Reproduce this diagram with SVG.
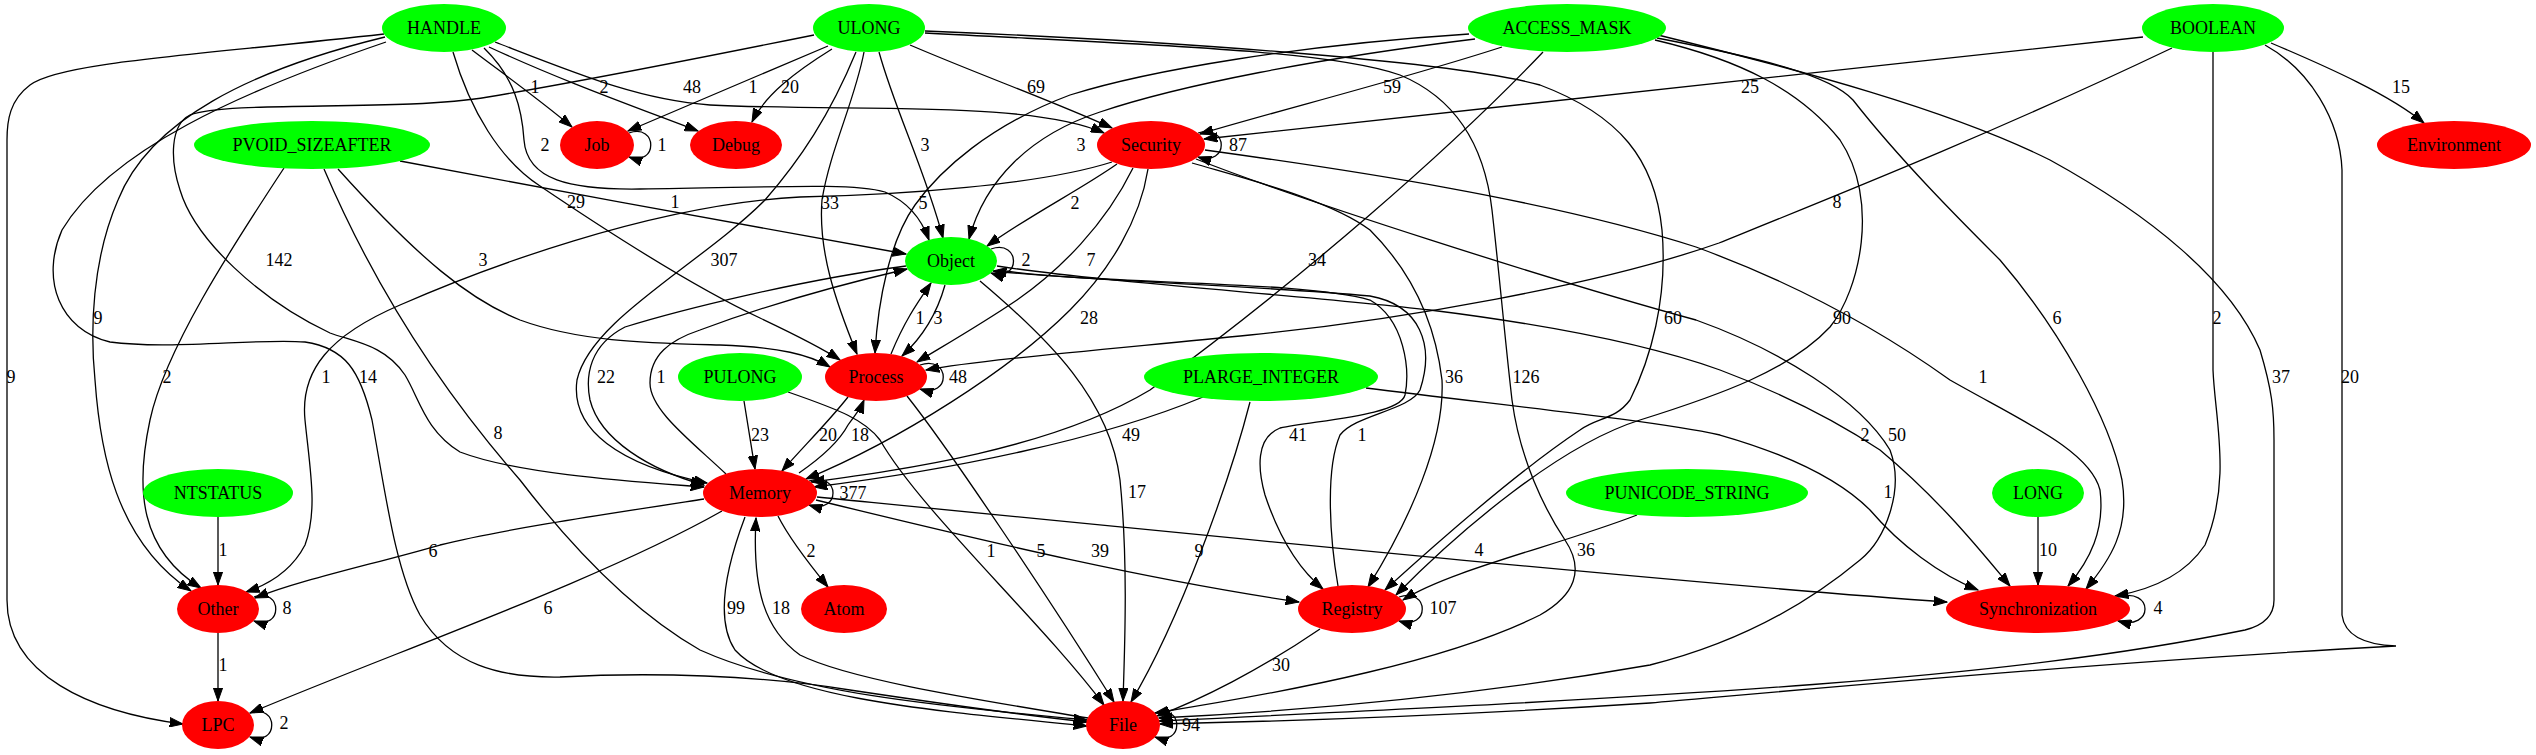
<svg xmlns="http://www.w3.org/2000/svg" width="2536" height="755" viewBox="0 0 2536 755">
<style>
text{font-family:"Liberation Serif","Times New Roman",serif;font-size:18px;text-anchor:middle;fill:#000}
.g{fill:#00ff00}
.r{fill:#ff0000}
.e path{fill:none;stroke:#000;stroke-width:1.3;marker-end:url(#a)}
.e path.nm{marker-end:none}
</style>
<defs>
<marker id="a" markerWidth="14" markerHeight="10" refX="13.3" refY="5" orient="auto" markerUnits="userSpaceOnUse">
<path d="M0,0.3 L13.3,5 L0,9.7 z" fill="#000" stroke="#000" stroke-width="1"/>
</marker>
</defs>
<rect width="2536" height="755" fill="#fff"/>
<g id="edges" class="e">
<g id="e-handle-lpc"><path d="M384,34 C200,55 60,62 30,85 C10,100 7,120 7,140 L7,600 C7,675 90,712 183,724"/><text x="11" y="383">9</text></g>
<g id="e-handle-other"><path d="M385,37 C250,70 150,120 118,200 C92,260 90,330 95,380 C100,450 115,540 191,591"/><text x="98" y="324">9</text></g>
<g id="e-handle-file"><path d="M386,42 C240,92 110,150 62,230 C40,280 60,330 110,342 C170,350 260,338 305,342 C345,348 360,370 372,420 C385,490 395,570 420,615 C450,665 500,678 560,677 C650,672 760,675 850,690 C950,705 1030,716 1087,722"/><text x="368" y="383">14</text></g>
<g id="e-ulong-memory-142"><path d="M814,35 C700,58 560,85 488,97 C400,112 230,100 190,115 C170,125 170,160 180,190 C195,240 260,300 330,333 C355,342 385,345 405,375 C420,400 425,430 460,452 C520,475 640,482 704,487"/><text x="279" y="266">142</text></g>
<g id="e-ulong-job"><path d="M828,46 C760,75 700,100 628,131"/><text x="753" y="93">1</text></g>
<g id="e-ulong-debug"><path d="M832,49 C795,72 765,95 752,122"/><text x="790" y="93">20</text></g>
<g id="e-handle-job"><path d="M472,50 C505,75 540,100 572,127"/><text x="535" y="93">1</text></g>
<g id="e-handle-debug"><path d="M489,47 C560,80 630,105 698,131"/><text x="604" y="93">2</text></g>
<g id="e-handle-security"><path d="M495,42 C580,75 640,100 710,105 C850,112 1030,100 1104,133"/><text x="692" y="93">48</text></g>
<g id="e-handle-object"><path d="M484,48 C515,78 522,110 524,140 C527,180 570,190 640,189 C760,188 850,182 885,192 C908,202 922,220 929,240"/><text x="545" y="151">2</text></g>
<g id="e-handle-process"><path d="M453,52 C470,110 500,160 540,186 C620,240 700,290 760,318 C800,337 822,348 840,360"/><text x="576" y="208">29</text></g>
<g id="e-pvoid-object"><path d="M400,161 C550,190 800,235 906,254"/><text x="675" y="208">1</text></g>
<g id="e-pvoid-other"><path d="M284,168 C230,250 165,350 150,420 C135,490 140,550 201,588"/><text x="167" y="383">2</text></g>
<g id="e-pvoid-file"><path d="M324,169 C380,300 450,400 520,480 C570,545 630,610 700,650 C800,695 960,708 1087,720"/><text x="498" y="439">8</text></g>
<g id="e-pvoid-process"><path d="M338,169 C420,260 470,300 520,320 C580,342 650,343 720,345 C780,347 810,355 830,367"/><text x="483" y="266">3</text></g>
<g id="e-security-other"><path d="M1112,162 C1040,185 900,195 800,197 C650,205 480,270 400,305 C330,335 300,370 305,420 C310,470 318,510 305,545 C292,570 270,584 246,592"/><text x="326" y="383">1</text></g>
<g id="e-ulong-memory-307"><path d="M856,52 C830,115 800,160 765,200 C700,265 590,320 577,380 C570,430 620,465 707,483"/><text x="724" y="266">307</text></g>
<g id="e-object-memory"><path d="M906,266 C800,280 680,310 625,327 C590,345 585,375 590,400 C600,440 650,470 704,485"/><text x="606" y="383">22</text></g>
<g id="e-memory-object"><path d="M726,474 C690,440 650,410 650,383 C650,355 670,340 700,330 C780,300 860,280 907,269"/><text x="661" y="383">1</text></g>
<g id="e-ulong-process"><path d="M864,52 C855,100 830,150 822,200 C818,250 835,300 857,354"/><text x="830" y="209">33</text></g>
<g id="e-ulong-object"><path d="M879,52 C895,110 925,170 943,238"/><text x="925" y="151">3</text></g>
<g id="e-ulong-security"><path d="M910,45 C980,75 1050,100 1112,128"/><text x="1036" y="93">69</text></g>
<g id="e-ulong-registry"><path d="M925,31 C1150,40 1450,60 1540,85 C1620,115 1655,160 1662,230 C1668,300 1650,360 1630,400 C1615,420 1598,417 1580,430 C1520,470 1440,540 1385,590"/><text x="1673" y="324">60</text></g>
<g id="e-ulong-file"><path d="M925,33 C1150,45 1330,50 1400,75 C1460,100 1485,150 1492,210 C1500,280 1505,340 1512,400 C1520,460 1545,510 1565,540 C1585,570 1575,595 1540,615 C1450,660 1300,690 1155,713"/><text x="1526" y="383">126</text></g>
<g id="e-access-security"><path d="M1502,47 C1400,80 1280,110 1200,134"/><text x="1392" y="93">59</text></g>
<g id="e-access-process"><path d="M1469,34 C1300,45 1150,70 1070,95 C990,125 940,170 915,205 C890,240 878,300 875,353"/><text x="923" y="209">5</text></g>
<g id="e-access-object"><path d="M1475,39 C1320,58 1180,85 1100,112 C1030,135 985,180 969,239"/><text x="1081" y="151">3</text></g>
<g id="e-access-memory"><path d="M1543,52 C1450,150 1300,280 1150,390 C1050,450 900,470 811,482"/><text x="1317" y="266">34</text></g>
<g id="e-access-registry"><path d="M1655,40 C1740,60 1800,90 1840,140 C1880,200 1860,290 1830,327 C1790,370 1720,395 1640,420 C1560,445 1460,530 1396,595"/><text x="1842" y="324">90</text></g>
<g id="e-access-sync"><path d="M1657,38 C1760,58 1830,75 1853,100 C1900,160 1960,220 2000,260 C2060,330 2110,420 2122,480 C2130,530 2110,560 2086,589"/><text x="2057" y="324">6</text></g>
<g id="e-access-file"><path d="M1658,35 C1800,70 1950,110 2050,160 C2150,215 2230,280 2260,350 C2272,390 2274,410 2274,440 L2274,600 C2274,615 2265,625 2245,630 C2000,680 1700,695 1159,721"/><text x="2281" y="383">37</text></g>
<g id="e-security-registry"><path d="M1192,163 C1250,180 1330,200 1370,230 C1410,270 1435,320 1442,380 C1445,440 1410,520 1368,587"/><text x="1454" y="383">36</text></g>
<g id="e-security-file"><path d="M1196,159 C1300,200 1550,280 1696,320 C1780,350 1860,400 1890,450 C1905,490 1885,540 1860,560 C1800,610 1730,645 1650,665 C1450,700 1280,712 1159,718"/><text x="1897" y="441">50</text></g>
<g id="e-security-sync"><path d="M1205,150 C1350,170 1550,200 1696,247 C1800,285 1880,330 1950,380 C2020,420 2090,450 2100,490 C2105,530 2090,560 2068,586"/><text x="1983" y="383">1</text></g>
<g id="e-boolean-security"><path d="M2143,37 C1800,75 1400,115 1204,139"/><text x="1750" y="93">25</text></g>
<g id="e-boolean-environment"><path d="M2271,43 C2330,68 2390,95 2424,123"/><text x="2401" y="93">15</text></g>
<g id="e-boolean-process"><path d="M2172,48 C2000,130 1850,190 1719,243 C1600,285 1400,320 1250,335 C1100,350 980,360 926,370"/><text x="1837" y="208">8</text></g>
<g id="e-boolean-sync"><path d="M2213,52 L2213,370 C2215,420 2232,480 2205,545 C2185,575 2150,590 2115,596"/><text x="2217" y="324">2</text></g>
<g id="e-boolean-file"><path d="M2265,45 C2310,70 2340,120 2342,170 L2342,615 C2345,638 2370,645 2396,646 C2100,662 1800,690 1650,703 C1450,716 1250,722 1160,724"/><text x="2350" y="383">20</text></g>
<g id="e-plarge-memory"><path d="M1203,397 C1100,440 950,470 814,487"/><text x="1131" y="441">49</text></g>
<g id="e-plarge-file"><path d="M1250,402 C1230,480 1180,620 1131,702"/><text x="1199" y="557">9</text></g>
<g id="e-plarge-sync"><path d="M1366,388 C1500,405 1650,420 1720,435 C1790,455 1840,480 1870,510 C1900,545 1940,575 1978,590"/><text x="1888" y="498">1</text></g>
<g id="e-object-sync"><path d="M997,266 C1100,282 1300,295 1430,310 C1550,325 1650,345 1720,370 C1800,400 1850,430 1880,450 C1940,500 1980,550 2010,586"/><text x="1865" y="441">2</text></g>
<g id="e-punicode-registry"><path d="M1637,515 C1560,545 1450,570 1403,600"/><text x="1586" y="556">36</text></g>
<g id="e-long-sync"><path d="M2038,517 L2038,585"/><text x="2048" y="556">10</text></g>
<g id="e-ntstatus-other"><path d="M218,517 L218,585"/><text x="223" y="556">1</text></g>
<g id="e-other-lpc"><path d="M218,633 L218,701"/><text x="223" y="671">1</text></g>
<g id="e-memory-other"><path d="M704,499 C600,515 500,530 440,545 C370,565 300,580 255,598"/><text x="433" y="557">6</text></g>
<g id="e-memory-lpc"><path d="M722,511 C600,580 400,650 250,713"/><text x="548" y="614">6</text></g>
<g id="e-memory-atom"><path d="M778,516 C790,540 810,565 828,587"/><text x="811" y="557">2</text></g>
<g id="e-memory-file"><path d="M745,517 C725,570 715,620 735,650 C780,700 950,712 1087,726"/><text x="736" y="614">99</text></g>
<g id="e-file-memory"><path d="M1088,718 C980,700 850,680 800,655 C765,630 752,590 756,518"/><text x="781" y="614">18</text></g>
<g id="e-memory-process"><path d="M799,473 C825,455 840,440 848,425 C855,415 860,410 864,400"/><text x="860" y="441">18</text></g>
<g id="e-process-memory"><path d="M848,397 C830,420 805,445 782,471"/><text x="828" y="441">20</text></g>
<g id="e-pulong-memory"><path d="M744,401 C747,420 751,445 755,469"/><text x="760" y="441">23</text></g>
<g id="e-pulong-file"><path d="M788,392 C840,410 865,420 880,440 C920,510 1040,620 1104,705"/><text x="991" y="557">1</text></g>
<g id="e-process-file"><path d="M907,396 C950,450 1050,600 1114,702"/><text x="1041" y="557">5</text></g>
<g id="e-object-file"><path d="M980,281 C1050,340 1110,400 1120,480 C1128,560 1125,640 1123,701"/><text x="1137" y="498">17</text></g>
<g id="e-memory-registry"><path d="M816,500 C1000,545 1150,580 1299,602"/><text x="1100" y="557">39</text></g>
<g id="e-memory-sync"><path d="M817,497 C1200,535 1700,585 1947,602"/><text x="1479" y="556">4</text></g>
<g id="e-registry-file"><path d="M1320,629 C1260,670 1200,700 1157,716"/><text x="1281" y="671">30</text></g>
<g id="e-object-registry"><path d="M998,270 C1100,285 1300,280 1370,300 C1405,320 1410,370 1405,395 C1400,415 1320,420 1280,428 C1255,438 1258,470 1265,495 C1280,540 1300,570 1323,589"/><text x="1298" y="441">41</text></g>
<g id="e-registry-object"><path d="M1338,586 C1330,540 1325,470 1340,435 C1355,415 1410,410 1420,390 C1435,345 1420,305 1370,296 C1250,285 1100,282 993,271"/><text x="1362" y="441">1</text></g>
<g id="e-security-object"><path d="M1117,164 C1080,190 1030,215 987,246"/><text x="1075" y="209">2</text></g>
<g id="e-security-process"><path d="M1133,168 C1105,225 1060,270 1017,300 C980,325 945,345 917,362"/><text x="1091" y="266">7</text></g>
<g id="e-security-memory"><path d="M1148,169 C1140,220 1110,270 1070,310 C1010,370 900,440 806,479"/><text x="1089" y="324">28</text></g>
<g id="e-process-object"><path d="M891,354 C905,320 918,302 931,283"/><text x="920" y="324">1</text></g>
<g id="e-object-process"><path d="M945,285 C938,310 925,335 902,356"/><text x="938" y="324">3</text></g>
<g id="e-job-loop"><path d="M629,133 C658,123 658,167 629,157"/><text x="662" y="151">1</text></g>
<g id="e-security-loop"><path d="M1198,133 C1229,123 1229,167 1198,157"/><text x="1238" y="151">87</text></g>
<g id="e-object-loop"><path d="M991,249 C1021,239 1021,283 991,273"/><text x="1026" y="266">2</text></g>
<g id="e-process-loop"><path d="M920,365 C951,355 951,399 920,389"/><text x="958" y="383">48</text></g>
<g id="e-memory-loop"><path d="M809,481 C841,471 841,515 809,505"/><text x="853" y="499">377</text></g>
<g id="e-other-loop"><path d="M254,597 C283,587 283,631 254,621"/><text x="287" y="614">8</text></g>
<g id="e-registry-loop"><path d="M1399,597 C1430,587 1430,631 1399,621"/><text x="1443" y="614">107</text></g>
<g id="e-sync-loop"><path d="M2118,597 C2154,587 2154,631 2118,621"/><text x="2158" y="614">4</text></g>
<g id="e-lpc-loop"><path d="M250,713 C279,703 279,747 250,737"/><text x="284" y="729">2</text></g>
<g id="e-file-loop"><path d="M1155,713 C1184,703 1184,747 1155,737"/><text x="1191" y="731">94</text></g>
</g>
<g id="n-HANDLE"><ellipse class="g" cx="444" cy="28" rx="62" ry="24"/><text x="444" y="34">HANDLE</text></g>
<g id="n-ULONG"><ellipse class="g" cx="869" cy="28" rx="56" ry="24"/><text x="869" y="34">ULONG</text></g>
<g id="n-ACCESS_MASK"><ellipse class="g" cx="1567" cy="28" rx="99" ry="24"/><text x="1567" y="34">ACCESS_MASK</text></g>
<g id="n-BOOLEAN"><ellipse class="g" cx="2213" cy="28" rx="71" ry="24"/><text x="2213" y="34">BOOLEAN</text></g>
<g id="n-PVOID_SIZEAFTER"><ellipse class="g" cx="312" cy="145" rx="118" ry="24"/><text x="312" y="151">PVOID_SIZEAFTER</text></g>
<g id="n-Job"><ellipse class="r" cx="597" cy="145" rx="37" ry="24"/><text x="597" y="151">Job</text></g>
<g id="n-Debug"><ellipse class="r" cx="736" cy="145" rx="46" ry="24"/><text x="736" y="151">Debug</text></g>
<g id="n-Security"><ellipse class="r" cx="1151" cy="145" rx="54" ry="24"/><text x="1151" y="151">Security</text></g>
<g id="n-Environment"><ellipse class="r" cx="2454" cy="145" rx="77" ry="24"/><text x="2454" y="151">Environment</text></g>
<g id="n-Object"><ellipse class="g" cx="951" cy="261" rx="46" ry="24"/><text x="951" y="267">Object</text></g>
<g id="n-Process"><ellipse class="r" cx="876" cy="377" rx="51" ry="24"/><text x="876" y="383">Process</text></g>
<g id="n-PULONG"><ellipse class="g" cx="740" cy="377" rx="62" ry="24"/><text x="740" y="383">PULONG</text></g>
<g id="n-PLARGE_INTEGER"><ellipse class="g" cx="1261" cy="377" rx="117" ry="24"/><text x="1261" y="383">PLARGE_INTEGER</text></g>
<g id="n-Memory"><ellipse class="r" cx="760" cy="493" rx="57" ry="24"/><text x="760" y="499">Memory</text></g>
<g id="n-NTSTATUS"><ellipse class="g" cx="218" cy="493" rx="75" ry="24"/><text x="218" y="499">NTSTATUS</text></g>
<g id="n-PUNICODE_STRING"><ellipse class="g" cx="1687" cy="493" rx="121" ry="24"/><text x="1687" y="499">PUNICODE_STRING</text></g>
<g id="n-LONG"><ellipse class="g" cx="2038" cy="493" rx="46" ry="24"/><text x="2038" y="499">LONG</text></g>
<g id="n-Other"><ellipse class="r" cx="218" cy="609" rx="41" ry="24"/><text x="218" y="615">Other</text></g>
<g id="n-Atom"><ellipse class="r" cx="844" cy="609" rx="43" ry="24"/><text x="844" y="615">Atom</text></g>
<g id="n-Registry"><ellipse class="r" cx="1352" cy="609" rx="54" ry="24"/><text x="1352" y="615">Registry</text></g>
<g id="n-Synchronization"><ellipse class="r" cx="2038" cy="609" rx="92" ry="24"/><text x="2038" y="615">Synchronization</text></g>
<g id="n-LPC"><ellipse class="r" cx="218" cy="725" rx="36" ry="24"/><text x="218" y="731">LPC</text></g>
<g id="n-File"><ellipse class="r" cx="1123" cy="725" rx="37" ry="24"/><text x="1123" y="731">File</text></g>
</svg>
